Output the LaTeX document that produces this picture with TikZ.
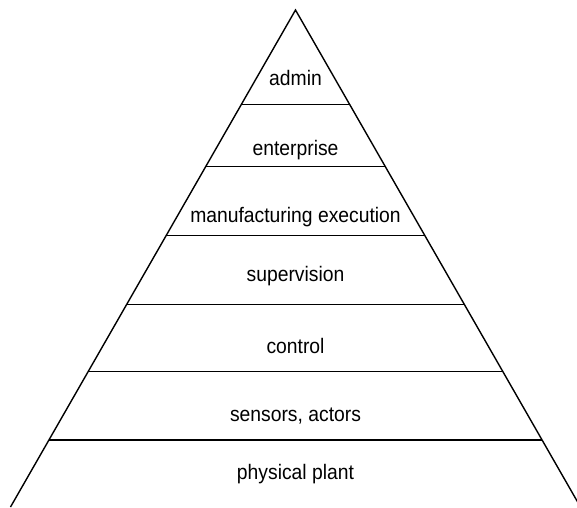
\documentclass[tikz,border=0pt]{standalone}
\usepackage{fontspec}
\usepackage{graphicx}
\setmainfont{Liberation Sans}
\newcommand{\cond}[1]{\scalebox{0.92}[1]{#1}}
\begin{document}
\begin{tikzpicture}[x=1pt,y=-1pt,
  edge/.style={line width=1.4pt,black},
  lbl/.style={anchor=base,inner sep=0pt,font=\fontsize{21}{24}\selectfont}]
\useasboundingbox (0,0) rectangle (577,507);
\clip (0,0) rectangle (577,507);
\fill[white] (0,0) rectangle (577,507);
\coordinate (apex) at (295.5,10);
\coordinate (bl) at (10.5,507);
\coordinate (br) at (580.5,507);
\draw[edge,line join=miter] (bl) -- (apex) -- (br);
\foreach \y/\n in {104.7/a,166.7/b,235.3/c,304.3/d,371.7/e,440/f}{
  \pgfmathsetmacro{\hw}{(\y-10)*0.5735}
  \coordinate (\n L) at ({295.5-\hw},\y);
  \coordinate (\n R) at ({295.5+\hw},\y);
  \draw[edge] (\n L) -- (\n R);
}
\node[lbl] (t1) at (295.5,85) {\cond{admin}};
\node[lbl] (t2) at (295.5,155) {\cond{enterprise}};
\node[lbl] (t3) at (295.5,222) {\cond{manufacturing execution}};
\node[lbl] (t4) at (295.5,281) {\cond{supervision}};
\node[lbl] (t5) at (295.5,353) {\cond{control}};
\node[lbl] (t6) at (295.5,421) {\cond{sensors, actors}};
\node[lbl] (t7) at (295.5,479) {\cond{physical plant}};
\end{tikzpicture}
\end{document}
